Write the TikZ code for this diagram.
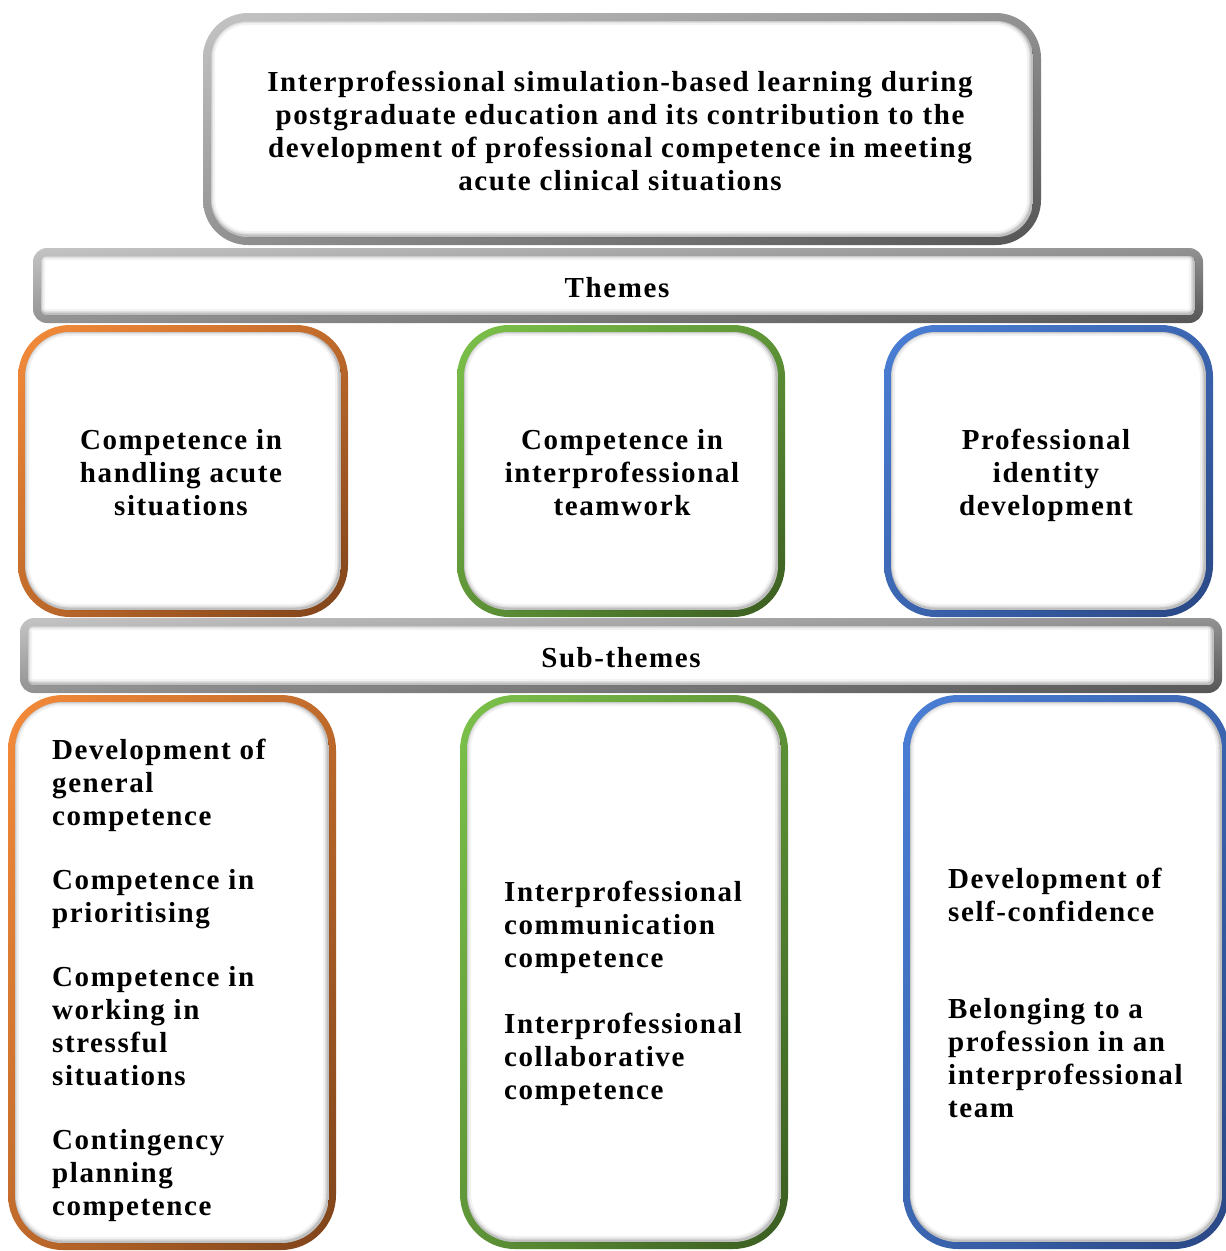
\documentclass[tikz,border=0pt]{standalone}
\usepackage{fontspec}
\newfontfamily\lab[LetterSpace=5.5]{Liberation Serif}
\usetikzlibrary{shadings}
\definecolor{orL}{HTML}{F58B3A}
\definecolor{orD}{HTML}{7E431A}
\definecolor{grL}{HTML}{7CC24A}
\definecolor{grD}{HTML}{3A5C20}
\definecolor{blL}{HTML}{4A7FD6}
\definecolor{blD}{HTML}{2A4784}
\definecolor{gyL}{HTML}{C4C4C4}
\definecolor{gyD}{HTML}{555555}
\newcommand\gbox[8]{%
  \shade[rounded corners=#5, upper left=#7, lower right=#8, upper right=#7!55!#8, lower left=#7!55!#8] (#1,#2) rectangle (#3,#4);
  \begin{scope}
    \path[clip, rounded corners=#5-#6] (#1+#6,#2+#6) rectangle (#3-#6,#4-#6);
    \fill[white] (#1+#6,#2+#6) rectangle (#3-#6,#4-#6);
    \draw[black, opacity=.05, line width=10, rounded corners=#5-#6] (#1+#6-1,#2+#6-1) rectangle (#3-#6-1,#4-#6-1);
    \draw[black, opacity=.08, line width=6, rounded corners=#5-#6] (#1+#6-1,#2+#6-1) rectangle (#3-#6-1,#4-#6-1);
    \draw[black, opacity=.14, line width=3, rounded corners=#5-#6] (#1+#6-1,#2+#6-1) rectangle (#3-#6-1,#4-#6-1);
  \end{scope}}
\tikzset{
  txt/.style={font=\lab\bfseries\fontsize{29}{33}\selectfont, inner sep=0pt, text=black},
}
\begin{document}
\begin{tikzpicture}[x=1pt,y=-1pt]
\useasboundingbox (0,0) rectangle (1226,1251);
\fill[white] (0,0) rectangle (1226,1251);
% title
\gbox{203}{13}{1041}{245}{45}{8}{gyL}{gyD}
\node[txt, align=center] (title) at (620,131) {Interprofessional simulation-based learning during\\postgraduate education and its contribution to the\\development of professional competence in meeting\\acute clinical situations};
% themes bar
\gbox{33}{248}{1203}{323}{14}{8}{gyL}{gyD}
\node[txt] (themes) at (617,288) {Themes};
% theme boxes
\gbox{18}{325}{348}{617}{52}{7}{orL}{orD}
\gbox{457}{325}{785}{617}{52}{7}{grL}{grD}
\gbox{884}{325}{1213}{617}{52}{7}{blL}{blD}
\node[txt, align=center] (t1) at (181,473) {Competence in\\handling acute\\situations};
\node[txt, align=center] (t2) at (622,473) {Competence in\\interprofessional\\teamwork};
\node[txt, align=center] (t3) at (1046,475) {Professional\\identity\\development};
% sub-themes bar
\gbox{20}{618}{1222}{693}{14}{8}{gyL}{gyD}
\node[txt] (subthemes) at (621,658) {Sub-themes};
% sub boxes
\gbox{8}{695}{336}{1250}{55}{7}{orL}{orD}
\gbox{460}{695}{788}{1249}{55}{7}{grL}{grD}
\gbox{903}{695}{1229}{1249}{55}{7}{blL}{blD}
\node[txt, align=left, anchor=west] (s1) at (52,980) {Development of\\general\\competence\\[31pt]Competence in\\prioritising\\[31pt]Competence in\\working in\\stressful\\situations\\[31pt]Contingency\\planning\\competence};
\node[txt, align=left, anchor=west] (s2) at (504,993) {Interprofessional\\communication\\competence\\[33pt]Interprofessional\\collaborative\\competence};
\node[txt, align=left, anchor=west] (s3) at (948,993) {Development of\\self-confidence\\[64pt]Belonging to a\\profession in an\\interprofessional\\team};
\end{tikzpicture}
\end{document}
